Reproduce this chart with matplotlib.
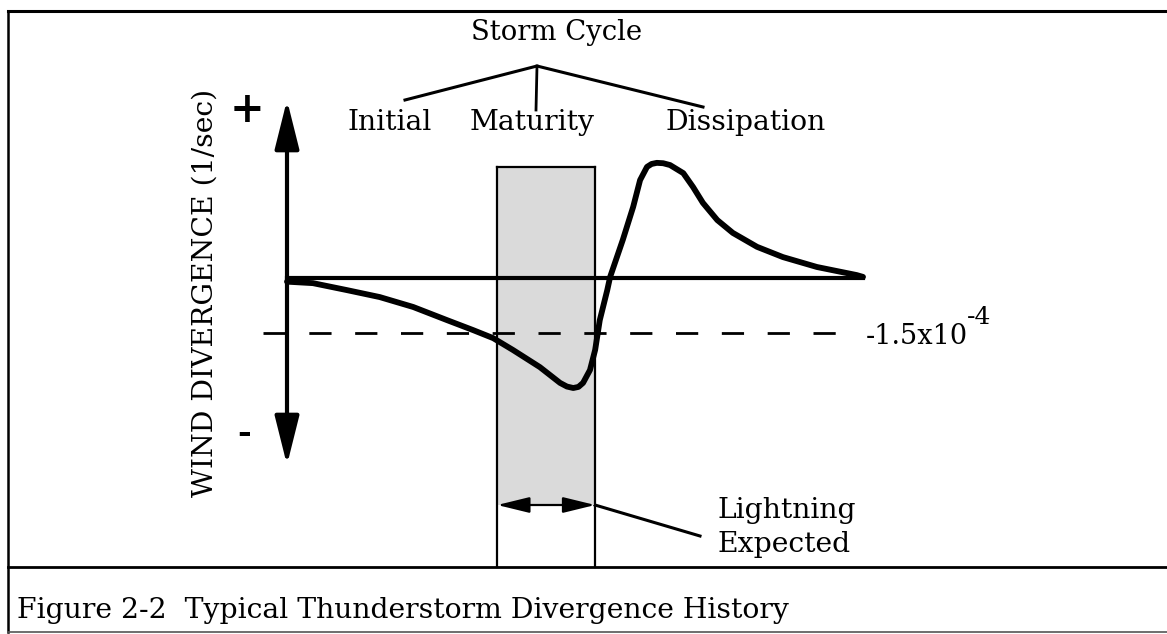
import matplotlib
matplotlib.use("Agg")
import matplotlib.pyplot as plt
from matplotlib.patches import Rectangle

plt.rcParams["font.family"] = ["DejaVu Serif"]
plt.rcParams["lines.scale_dashes"] = False

# storm time (arbitrary units, 0 = onset, 100 = end of dissipation)
time = [0, 4.5, 10.4, 16.1, 21.9, 27.8, 32.3, 35.8, 39.2, 43.9, 47.4, 48.6,
        49.7, 50.6, 51.4, 52.6, 53.5, 54.3, 55.6, 56.1, 58.3, 60.1, 61.3,
        62.5, 63.3, 64.2, 65.3, 66.5, 68.8, 70.5, 72.2, 74.7, 77.4, 81.6,
        86.1, 92.0, 98.9, 100]
# wind divergence in units of 1e-4 1/sec
divergence = [-0.10, -0.14, -0.33, -0.52, -0.79, -1.15, -1.42, -1.64, -1.96,
              -2.43, -2.86, -2.96, -3.00, -2.97, -2.86, -2.51, -1.96, -1.15,
              -0.33, 0.03, 1.04, 1.94, 2.67, 3.03, 3.11, 3.14, 3.13, 3.08,
              2.86, 2.48, 2.05, 1.58, 1.23, 0.85, 0.57, 0.30, 0.08, 0.03]

threshold = -1.5            # x1e-4 1/sec
lightning_window = (36.5, 53.5)
stages = ["Initial", "Maturity", "Dissipation"]
caption = "Figure 2-2  Typical Thunderstorm Divergence History"

W, H = 1167, 634
fig = plt.figure(figsize=(W / 100, H / 100), dpi=100)

# layout layer in pixel units (frame, bracket, labels)
lay = fig.add_axes([0, 0, 1, 1])
lay.set_xlim(0, W)
lay.set_ylim(H, 0)
lay.axis("off")

# data layer: t=0 at pixel 287, t=100 at pixel 863; zero at 278, 1 unit = 36.67 px
ax = fig.add_axes([0, 0, 1, 1])
ax.patch.set_alpha(0)
ax.set_xlim(-287 / 5.76, (W - 287) / 5.76)
ax.set_ylim((278 - H) / 36.67, 278 / 36.67)
ax.axis("off")

# frame
lay.plot([8, W], [11, 11], color="black", lw=2.2)
lay.plot([8, 8], [11, 632], color="black", lw=1.8)
lay.plot([8, W], [567, 567], color="black", lw=2.0)
lay.plot([8, W], [632, 632], color="#555555", lw=1.2)

# lightning window
t0, t1 = lightning_window
y_arrow = (278 - 505) / 36.67
y_bottom = (278 - 567) / 36.67
y_top = (278 - 167) / 36.67
ax.add_patch(Rectangle((t0, y_arrow), t1 - t0, y_top - y_arrow,
                       facecolor="#dadada", edgecolor="none", zorder=1))
ax.plot([t0, t0], [y_bottom, y_top], color="black", lw=1.6, zorder=3)
ax.plot([t1, t1], [y_bottom, y_top], color="black", lw=1.6, zorder=3)
ax.plot([t0, t1], [y_top, y_top], color="black", lw=1.6, zorder=3)
ax.annotate("", xy=(t0, y_arrow), xytext=(t1, y_arrow),
            arrowprops=dict(arrowstyle="<|-|>,head_length=0.9,head_width=0.22",
                            mutation_scale=22, color="black", lw=1.6,
                            shrinkA=0, shrinkB=0), zorder=4)
lay.plot([595, 700], [505, 536], color="black", lw=2.2)
lay.text(787, 511, "Lightning", ha="center", va="center", fontsize=20.3)
lay.text(784, 545, "Expected", ha="center", va="center", fontsize=20.3)

# zero line and threshold
ax.plot([0, 100], [0, 0], color="black", lw=3.0, zorder=3)
ax.plot([-4.2, 96], [threshold, threshold], color="black", lw=2.0,
        dashes=(16, 17), zorder=3)
lay.text(866, 336, "-1.5x10", ha="left", va="center", fontsize=19.5)
lay.text(967, 318, "-4", ha="left", va="center", fontsize=18)

# divergence curve
ax.plot(time, divergence, color="black", lw=4.2, solid_capstyle="round",
        solid_joinstyle="round", zorder=5)

# vertical axis with arrows
for tip in [(278 - 100) / 36.67, (278 - 465) / 36.67]:
    ax.annotate("", xy=(0, tip), xytext=(0, 0),
                arrowprops=dict(arrowstyle="-|>,head_length=1.0,head_width=0.25",
                                mutation_scale=30, color="black", lw=3.0,
                                shrinkA=0, shrinkB=0), zorder=6)
lay.text(247, 110, "+", ha="center", va="center", fontsize=30,
         fontweight="bold")
lay.text(244, 433, "-", ha="center", va="center", fontsize=24,
         fontweight="bold")
lay.text(205, 293, "WIND DIVERGENCE (1/sec)", ha="center", va="center",
         rotation=90, fontsize=20.3)

# storm cycle bracket
lay.text(557, 33, "Storm Cycle", ha="center", va="center", fontsize=19.8)
lay.plot([405, 537, 703], [100, 66, 107], color="black", lw=2.2,
         solid_joinstyle="miter")
lay.plot([537, 536], [66, 110], color="black", lw=2.0)
for label, xc in zip(stages, [390, 532, 746]):
    lay.text(xc, 123, label, ha="center", va="center", fontsize=20.3)

lay.text(17, 611, caption, ha="left", va="center", fontsize=20.3)

fig.savefig("out.png", dpi=100)
